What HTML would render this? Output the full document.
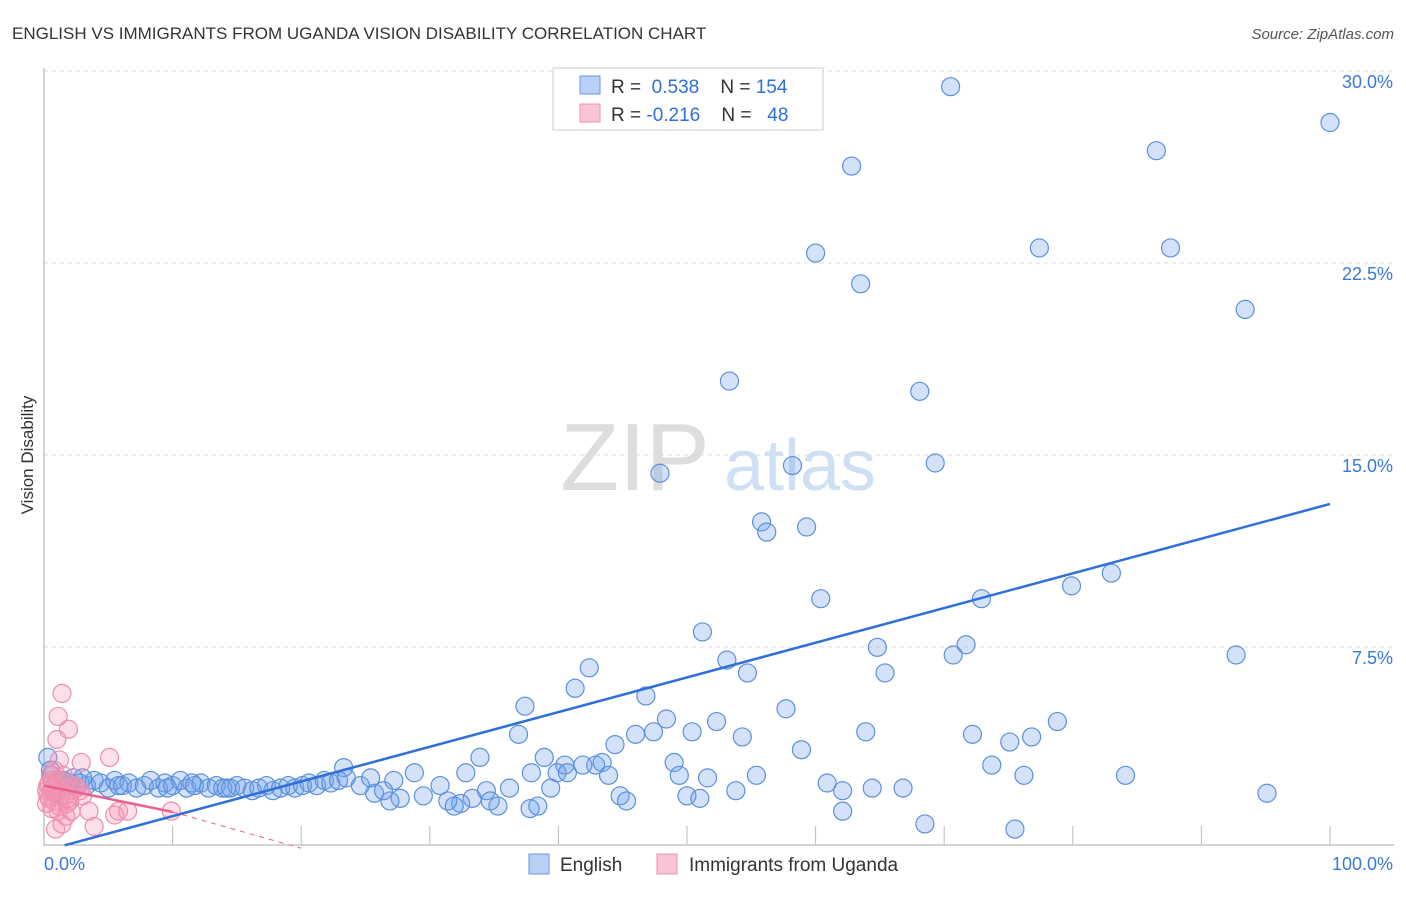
<!DOCTYPE html>
<html><head><meta charset="utf-8"><style>
body{margin:0;background:#fff;font-family:"Liberation Sans",sans-serif;}
svg text{font-family:"Liberation Sans",sans-serif;}
</style></head><body>
<svg id="chart" width="1406" height="892" xmlns="http://www.w3.org/2000/svg">
<text x="12" y="39" font-size="17" fill="#333">ENGLISH VS IMMIGRANTS FROM UGANDA VISION DISABILITY CORRELATION CHART</text>
<text x="1394" y="39" font-size="15" fill="#555" font-style="italic" text-anchor="end">Source: ZipAtlas.com</text>
<text transform="translate(33,455) rotate(-90)" font-size="17" fill="#333" text-anchor="middle">Vision Disability</text>
<g>
<text x="635" y="490" font-size="96" fill="#ddd" font-family="Liberation Serif" text-anchor="middle">ZIP</text>
<text x="800" y="490" font-size="72" fill="#cfe0f5" text-anchor="middle">atlas</text>
</g>
<g id="grid"></g>
<g id="axes"></g>
<g id="marks"></g>
<g>
<rect x="553" y="68" width="270" height="62" fill="#fff" stroke="#ccc"/>
<rect x="580" y="76" width="20" height="18" fill="#b8d0f5" stroke="#6a9ae0"/>
<rect x="580" y="104" width="20" height="18" fill="#f9c4d4" stroke="#ec94b0"/>
<text x="611" y="93" font-size="19" fill="#333">R = <tspan fill="#2f6fd8">&#160;0.538</tspan>&#160;&#160;&#160; N = <tspan fill="#2f6fd8">154</tspan></text>
<text x="611" y="121" font-size="19" fill="#333">R = <tspan fill="#2f6fd8">-0.216</tspan>&#160;&#160;&#160; N = <tspan fill="#2f6fd8">&#160; 48</tspan></text>
</g>
<g>
<rect x="529" y="854" width="20" height="20" fill="#b8d0f5" stroke="#6a9ae0"/>
<text x="560" y="871" font-size="19" fill="#333">English</text>
<rect x="657" y="854" width="20" height="20" fill="#f9c4d4" stroke="#ec94b0"/>
<text x="689" y="871" font-size="19" fill="#333">Immigrants from Uganda</text>
</g>
</svg>
<script>
const yTicks=[7.5,15.0,22.5,30.0];
const xTickVals=[10,20,30,40,50,60,70,80,90,100];
const englishX=[70.5,100,62.8,86.5,60.0,77.4,87.6,63.5,93.4,53.3,68.1,47.9,58.2,69.3,55.8,56.2,59.3,83.0,79.9,60.4,72.9,51.2,71.7,64.8,70.7,92.7,53.1,42.4,54.7,65.4,41.3,46.8,37.4,57.7,48.4,52.3,78.8,36.9,46.0,47.4,50.4,54.3,63.9,72.2,76.8,75.1,44.4,58.9,33.9,38.9,40.5,42.9,43.4,41.9,49.0,73.7,23.3,28.8,32.8,37.9,39.9,40.7,43.9,49.4,51.6,55.4,76.2,84.1,60.9,30.8,36.2,39.4,27.2,53.8,62.1,64.4,66.8,95.1,34.4,44.8,50.0,51.0,45.3,33.3,34.7,35.3,32.4,31.4,31.9,29.5,27.7,26.9,25.7,26.4,24.6,25.4,37.8,38.4,62.1,68.5,75.5,
0.3,0.6,1.0,1.4,1.8,2.3,2.8,3.3,3.9,4.4,5.0,5.5,6.1,6.6,7.2,7.8,8.3,8.9,9.4,10.0,10.6,11.1,11.7,12.2,12.8,13.4,13.9,14.5,15.0,15.6,16.2,16.7,17.3,17.8,18.4,19.0,19.5,20.1,20.6,21.2,21.8,22.3,22.9,23.5,2.0,5.8,9.6,14.2,0.5,1.5,3.0,11.5];
const englishY=[29.7,28.3,26.6,27.2,23.2,23.4,23.4,22.0,21.0,18.2,17.8,14.6,14.9,15.0,12.7,12.3,12.5,10.7,10.2,9.7,9.7,8.4,7.9,7.8,7.5,7.5,7.3,7.0,6.8,6.8,6.2,5.9,5.5,5.4,5.0,4.9,4.9,4.4,4.4,4.5,4.5,4.3,4.5,4.4,4.3,4.1,4.0,3.8,3.5,3.5,3.2,3.2,3.3,3.2,3.3,3.2,3.1,2.9,2.9,2.9,2.9,2.9,2.8,2.8,2.7,2.8,2.8,2.8,2.5,2.4,2.3,2.3,2.6,2.2,2.2,2.3,2.3,2.1,2.2,2.0,2.0,1.9,1.8,1.9,1.8,1.6,1.7,1.8,1.6,2.0,1.9,1.8,2.1,2.2,2.4,2.7,1.5,1.6,1.4,0.9,0.7,
3.5,2.8,2.5,2.6,2.4,2.7,2.5,2.4,2.6,2.5,2.3,2.6,2.4,2.5,2.3,2.4,2.6,2.3,2.5,2.4,2.6,2.3,2.4,2.5,2.3,2.4,2.3,2.3,2.4,2.3,2.2,2.3,2.4,2.2,2.3,2.4,2.3,2.4,2.5,2.4,2.6,2.5,2.6,2.7,2.5,2.4,2.3,2.3,3.0,2.6,2.7,2.5];
const ugandaX=[1.4,1.1,1.9,1.0,2.9,5.1,1.2,0.5,0.6,0.8,1.2,0.3,1.6,2.0,1.1,1.7,0.9,1.4,3.9,3.5,5.8,5.5,6.5,9.9,2.4,2.8,0.3,0.6,1.1,1.4,1.7,2.1,2.2,0.8,0.2,0.4,0.9,1.3,1.8,2.5,0.6,1.0,1.5,0.2,0.7,3.0,1.9,0.4];
const ugandaY=[6.0,5.1,4.6,4.2,3.3,3.5,3.4,2.8,2.2,1.8,1.6,2.4,2.0,1.8,1.4,1.2,0.7,0.9,0.8,1.4,1.4,1.25,1.4,1.4,2.4,2.2,2.0,2.6,2.4,2.2,2.5,1.4,2.2,3.0,2.2,1.9,2.1,2.0,1.7,2.3,1.5,2.6,2.8,1.7,2.3,2.0,1.9,2.5];
const englishFit=[-0.15,13.55];
const ugandaFit=[2.4,1.37,-0.05];
const ns="http://www.w3.org/2000/svg";
const X=v=>44+v*12.86, Y=v=>847-v*25.6;
function mk(p,t,a){const e=document.createElementNS(ns,t);for(const k in a)e.setAttribute(k,a[k]);p.appendChild(e);return e;}
const grid=document.getElementById('grid'),axes=document.getElementById('axes'),marks=document.getElementById('marks');
yTicks.forEach(v=>{
const l=mk(grid,'line',{x1:44,x2:1394,y1:Y(v)-8,y2:Y(v)-8,stroke:'#ddd','stroke-dasharray':'4,4'});


const t=mk(axes,'text',{x:1393,y:Y(v)+9,'font-size':18,fill:'#3a78d8','text-anchor':'end'});
t.textContent=v.toFixed(1)+'%';


});
const ax=mk(axes,'path',{d:'M44,68 L44,845 L1394,845',fill:'none',stroke:'#aaa'});


xTickVals.forEach(v=>{
const l=mk(axes,'line',{x1:X(v),x2:X(v),y1:826,y2:845,stroke:'#bbb'});


});
[['0.0%',44,'start'],['100.0%',1393,'end']].forEach(a=>{
const t=mk(axes,'text',{x:a[1],y:870,'font-size':18,fill:'#3a78d8','text-anchor':a[2]});
t.textContent=a[0];


});
englishX.forEach((x,i)=>{
const c=mk(marks,'circle',{cx:X(x),cy:Y(englishY[i]),r:9,fill:'rgba(110,160,235,0.3)',stroke:'#5b90dc','stroke-width':1.2});


});
ugandaX.forEach((x,i)=>{
const c=mk(marks,'circle',{cx:X(x),cy:Y(ugandaY[i]),r:9,fill:'rgba(245,150,180,0.3)',stroke:'#ec8fae','stroke-width':1.2});


});
const fe=mk(marks,'line',{x1:X(1.6),y1:Y(englishFit[0]+0.016*englishFit[1]),x2:X(100),y2:Y(englishFit[1]+englishFit[0]),stroke:'#2f6fd8','stroke-width':2.5});


const fu=mk(marks,'line',{x1:X(0),y1:Y(ugandaFit[0]),x2:X(10),y2:Y(ugandaFit[1]),stroke:'#e8608e','stroke-width':2.5});


const fd=mk(marks,'line',{x1:X(10),y1:Y(ugandaFit[1]),x2:X(20),y2:Y(ugandaFit[2]),stroke:'#e8608e','stroke-width':1,'stroke-dasharray':'5,5'});


</script>
</body></html>
